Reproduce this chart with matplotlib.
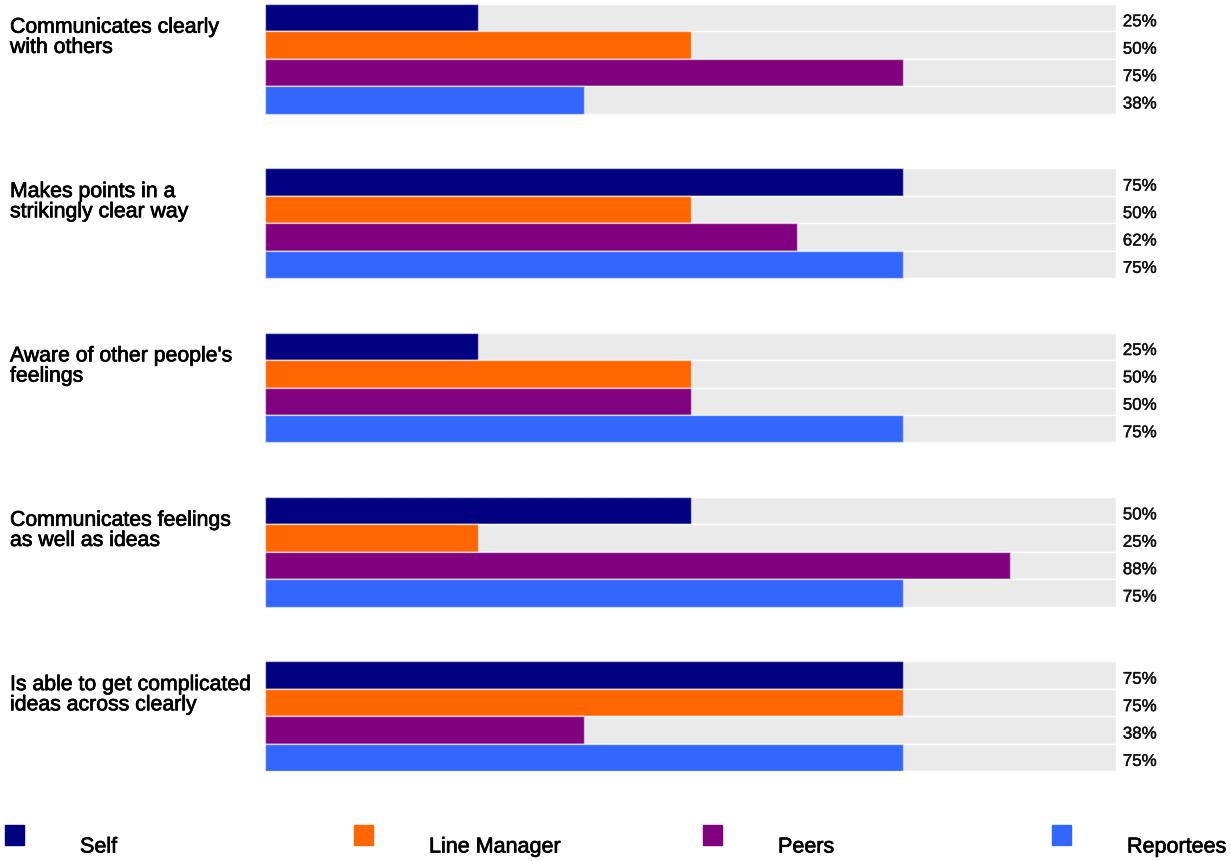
import matplotlib
matplotlib.use("Agg")
import matplotlib.pyplot as plt
from matplotlib.patches import Rectangle
import matplotlib.transforms as mtransforms
import matplotlib.patheffects as pe

plt.rcParams["font.family"] = ["Liberation Sans", "DejaVu Sans"]

# données
questions = [
    "Communicates clearly\nwith others",
    "Makes points in a\nstrikingly clear way",
    "Aware of other people's\nfeelings",
    "Communicates feelings\nas well as ideas",
    "Is able to get complicated\nideas across clearly",
]
groupes = ["Self", "Line Manager", "Peers", "Reportees"]
couleurs = ["#000080", "#FF6600", "#800080", "#3366FF"]

self_vals = [25, 75, 25, 50, 75]
manager_vals = [50, 50, 50, 25, 75]
peers_vals = [75, 62.5, 50, 87.5, 37.5]
reportees_vals = [37.5, 75, 75, 75, 75]
series = [self_vals, manager_vals, peers_vals, reportees_vals]

# léger épaississement du texte (rendu type Arial)
gras = [pe.withStroke(linewidth=0.5, foreground="black")]

W, H = 1231, 862
fig = plt.figure(figsize=(W / 100, H / 100), dpi=100)
ax = fig.add_axes([265 / W, 1 - 772 / H, 851 / W, 767 / H])

pas = 6  # espacement entre questions (en hauteur de barre)
for q in range(len(questions)):
    for i, vals in enumerate(series):
        y = q * pas + i
        ax.barh(y, 100, height=1.0, color="#EAEAEA", edgecolor="white", linewidth=1.0)
        ax.barh(y, vals[q], height=1.0, color=couleurs[i], edgecolor=(1, 1, 1, 0.5), linewidth=1.0)
        ax.text(100.8, y + 0.15, f"{vals[q]:.0f}%", va="center", ha="left", fontsize=12.2,
                color="#111111", path_effects=[pe.withStroke(linewidth=0.3, foreground="#111111")])

trans = mtransforms.blended_transform_factory(fig.transFigure, ax.transData)
for q, label in enumerate(questions):
    ax.text(10 / W, q * pas - 0.5 + 0.5, label, transform=trans, va="top", ha="left",
            fontsize=15.3, color="black", linespacing=1.08, path_effects=gras)

ax.set_xlim(0, 100)
ax.set_ylim(len(questions) * pas - pas + 3.5, -0.5)
ax.axis("off")

# légende en bas
for i, (nom, c) in enumerate(zip(groupes, couleurs)):
    x0 = 5 + i * 349
    fig.patches.append(Rectangle((x0 / W, 1 - 846 / H), 19 / W, 20 / H,
                                 transform=fig.transFigure, color=c))
    fig.text((x0 + 75) / W, 1 - 848 / H, nom, va="center", ha="left", fontsize=15.5,
             color="black", path_effects=gras)

fig.savefig("out.png", dpi=100)
